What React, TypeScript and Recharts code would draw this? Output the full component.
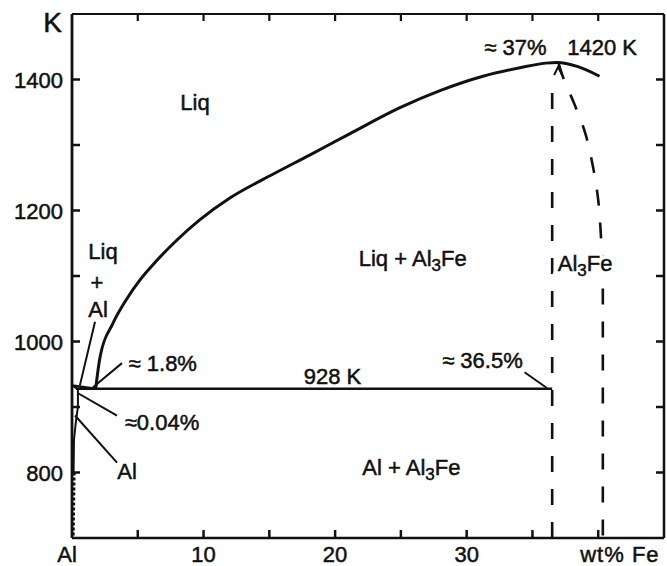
import React from 'react';
import { ComposedChart, Line, XAxis, YAxis, ReferenceLine, ReferenceDot } from 'recharts';

// ---- data (wt% Fe, temperature K) ----
const xTicks = [0, 5, 10, 15, 20, 25, 30, 35, 40];
const xTickLabels: Record<number, string> = { 0: 'Al', 10: '10', 20: '20', 30: '30', 40: 'wt% Fe' };
const yTicks = [800, 900, 1000, 1100, 1200, 1300, 1400, 1500];
const yTickLabels: Record<number, string> = { 800: '800', 1000: '1000', 1200: '1200', 1400: '1400', 1500: 'K' };
const xMin = 0, xMax = 45, yMin = 700, yMax = 1500;

const liquidus = [
  { x: 1.8, T: 928 }, { x: 2.13, T: 976 }, { x: 3.12, T: 1028 }, { x: 4.1, T: 1063 },
  { x: 5.17, T: 1094 }, { x: 6.46, T: 1124 }, { x: 7.98, T: 1155 }, { x: 9.73, T: 1186 },
  { x: 12.0, T: 1219 }, { x: 15.05, T: 1253 }, { x: 18.1, T: 1285 }, { x: 21.1, T: 1317 },
  { x: 24.93, T: 1357 }, { x: 27.97, T: 1383 }, { x: 31.24, T: 1405 }, { x: 34.05, T: 1418 },
  { x: 36.0, T: 1425 }, { x: 36.9, T: 1426 }, { x: 38.4, T: 1420 }, { x: 40.1, T: 1405 },
];
const alLiquidus = [{ x: 0, T: 933 }, { x: 1.8, T: 928 }];
const eutectic = [{ x: 0.3, T: 928 }, { x: 36.5, T: 928 }];
const alSolvus = [
  { x: 0, T: 933 }, { x: 0.45, T: 927 }, { x: 0.45, T: 900 }, { x: 0.3, T: 878 },
  { x: 0.15, T: 850 }, { x: 0.12, T: 800 },
];
const alSolvusLow = [{ x: 0.12, T: 800 }, { x: 0.05, T: 700 }];
const al3FeLeft = [{ x: 36.5, T: 700 }, { x: 36.5, T: 1388 }];
const al3FeRight = [
  { x: 37.0, T: 1424 }, { x: 37.3, T: 1405 }, { x: 38.2, T: 1362 }, { x: 39.0, T: 1319 },
  { x: 39.6, T: 1267 }, { x: 40.0, T: 1216 }, { x: 40.2, T: 1163 }, { x: 40.35, T: 1094 },
  { x: 40.35, T: 700 },
];

const FONT = '"Liberation Sans", Arial, sans-serif';
const INK = '#111';
const TXT = { fontFamily: FONT, fill: INK, stroke: INK, strokeWidth: 0.5 } as any;

const LeftTick = (p: any) => {
  const v = p.payload.value;
  const isK = v === 1500;
  return (
    <text x={p.x - (isK ? 10 : 9)} y={p.y} dy={isK ? 18 : 8} textAnchor="end"
      fontSize={isK ? 28 : 22} {...TXT}>{yTickLabels[v] ?? ''}</text>
  );
};
const BottomTick = (p: any) => {
  const v = p.payload.value;
  const lab = xTickLabels[v] ?? '';
  const isUnit = v === 40;
  return (
    <text x={p.x + (v === 0 ? -5 : isUnit ? -18 : 0)} y={p.y} dy={24}
      textAnchor={isUnit ? 'start' : 'middle'} fontSize={22} letterSpacing={isUnit ? 1 : 0}
      {...TXT}>{lab}</text>
  );
};

const tickMark = (key: string, x: number, T: number, dx: number, dy: number, w = 2.5) => (
  <ReferenceDot key={key} x={x} y={T} r={0} ifOverflow="visible"
    shape={(p: any) => (
      <line x1={p.cx} y1={p.cy} x2={p.cx + dx} y2={p.cy + dy} stroke={INK} strokeWidth={w} />
    )} />
);

const sub = (a: string, s: string, b: string) => (
  <>
    {a}<tspan dy={5} fontSize={17}>{s}</tspan><tspan dy={-5}>{b}</tspan>
  </>
);

const note = (key: string, x: number, T: number, content: any, halo = false) => (
  <ReferenceDot key={key} x={x} y={T} r={0} ifOverflow="visible" isFront
    shape={(p: any) => (
      <g>
        {halo && (
          <text x={p.cx} y={p.cy} dy={8} textAnchor="middle" fontSize={22} fontFamily={FONT}
            fill="#fff" stroke="#fff" strokeWidth={7}>{content}</text>
        )}
        <text x={p.cx} y={p.cy} dy={8} textAnchor="middle" fontSize={22} {...TXT}>
          {content}
        </text>
      </g>
    )} />
);

const leader = (key: string, x1: number, T1: number, x2: number, T2: number) => (
  <ReferenceLine key={key} segment={[{ x: x1, y: T1 }, { x: x2, y: T2 }]} stroke={INK}
    strokeWidth={2} ifOverflow="visible" />
);

const lineProps = { dot: false, activeDot: false, isAnimationActive: false, stroke: INK, dataKey: 'T' } as any;

export default function App() {
  return (
    <div style={{ position: 'absolute', left: 0, top: 0, background: '#fff', width: 667, height: 566 }}>
      <ComposedChart width={667} height={566} margin={{ top: 14, right: 3, bottom: 0, left: 0 }}>
        <XAxis dataKey="x" type="number" domain={[xMin, xMax]} ticks={xTicks} allowDataOverflow
          height={28} tickSize={0} tickMargin={0} tickLine={false}
          axisLine={{ stroke: INK, strokeWidth: 2.5 }} tick={(p: any) => <BottomTick {...p} />} interval={0} />
        <YAxis type="number" domain={[yMin, yMax]} ticks={yTicks} allowDataOverflow width={72}
          tickSize={0} tickMargin={0} tickLine={false}
          axisLine={{ stroke: INK, strokeWidth: 2.8 }} tick={(p: any) => <LeftTick {...p} />} interval={0} />

        {/* frame: top and right borders */}
        <ReferenceLine y={yMax} stroke={INK} strokeWidth={2.2} ifOverflow="visible" />
        <ReferenceLine x={xMax} stroke={INK} strokeWidth={2.5} ifOverflow="visible" />

        {/* inward tick marks on all four sides */}
        {yTicks.filter((v) => v < yMax).map((v) => tickMark(`lt${v}`, xMin, v, 8, 0))}
        {yTicks.filter((v) => v < yMax).map((v) => tickMark(`rt${v}`, xMax, v, -8, 0))}
        {xTicks.filter((v) => v > xMin).map((v) => tickMark(`bt${v}`, v, yMin, 0, -8))}
        {xTicks.filter((v) => v > xMin).map((v) => tickMark(`tt${v}`, v, yMax, 0, 7, 2.2))}

        <Line {...lineProps} data={liquidus} type="monotone" strokeWidth={3} />
        <Line {...lineProps} data={alLiquidus} type="linear" strokeWidth={2.5} />
        <Line {...lineProps} data={eutectic} type="linear" strokeWidth={2.5} />
        <Line {...lineProps} data={alSolvus} type="linear" strokeWidth={2} />
        <Line {...lineProps} data={alSolvusLow} type="linear" strokeWidth={4} strokeDasharray="3 2" />
        <Line {...lineProps} data={al3FeLeft} type="linear" strokeWidth={2.6} strokeDasharray="16 17" />
        <Line {...lineProps} data={al3FeRight} type="monotoneY" strokeWidth={2.6} strokeDasharray="16 17" />

        <ReferenceDot x={36.95} y={1419} r={0} ifOverflow="visible" isFront
          shape={(p: any) => (
            <path d={`M${p.cx - 4},${p.cy + 8} L${p.cx},${p.cy} L${p.cx + 4},${p.cy + 8}`}
              fill="none" stroke={INK} strokeWidth={2} />
          )} />

        {leader('l1', 1.75, 1030, 0.6, 933)}
        {leader('l2', 3.8, 967, 1.6, 930)}
        {leader('l3', 3.42, 887, 0.46, 921)}
        {leader('l4', 3.42, 815, 0.23, 887)}
        {leader('l5', 34.4, 953, 36.1, 929)}

        {note('n1', 9.35, 1365, 'Liq')}
        {note('n2', 2.36, 1138, 'Liq')}
        {note('n3', 1.9, 1091, '+')}
        {note('n4', 1.98, 1049, 'Al')}
        {note('n5', 25.9, 1127, <>Liq + {sub('Al', '3', 'Fe')}</>)}
        {note('n6', 39.0, 1120, sub('Al', '3', 'Fe'), true)}
        {note('n7', 6.9, 967, '≈ 1.8%')}
        {note('n8', 19.8, 947, '928 K')}
        {note('n9', 31.2, 971, '≈ 36.5%')}
        {note('n10', 6.84, 877, '≈0.04%')}
        {note('n11', 4.18, 803, 'Al')}
        {note('n12', 25.8, 809, <>Al + {sub('Al', '3', 'Fe')}</>)}
        {note('n13', 33.7, 1449, '≈ 37%')}
        {note('n14', 40.3, 1449, '1420 K')}
      </ComposedChart>
    </div>
  );
}
